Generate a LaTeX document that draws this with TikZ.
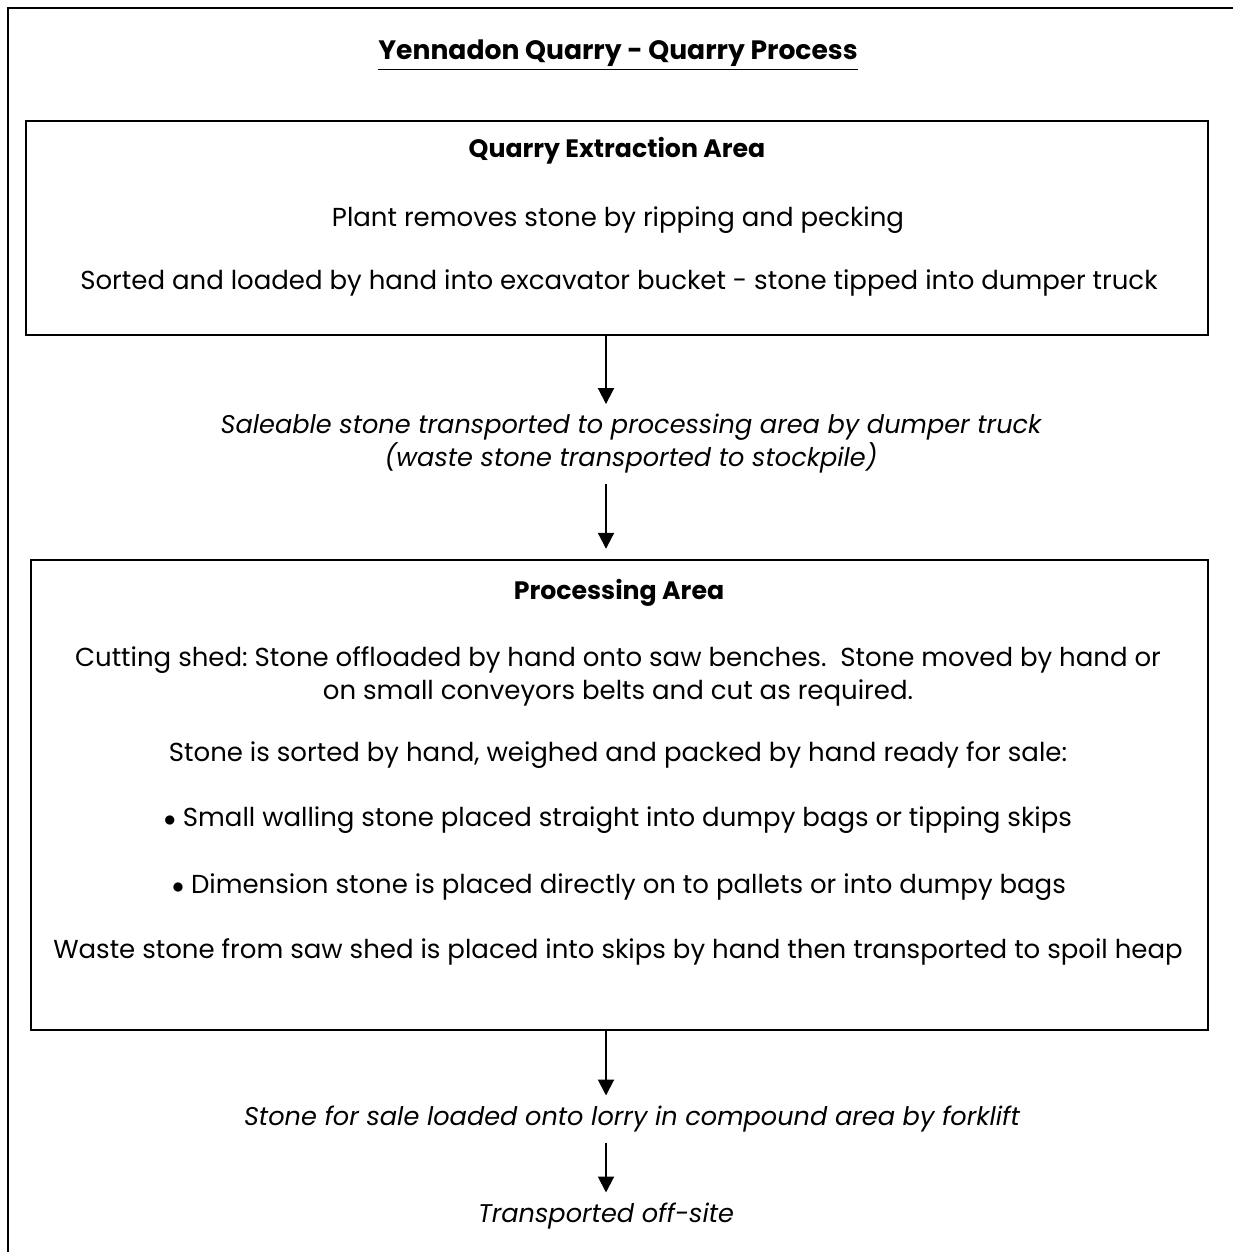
\documentclass[tikz,border=0pt]{standalone}
\usepackage{fontspec}
\setmainfont{Poppins}
\usetikzlibrary{arrows.meta}
\frenchspacing
\begin{document}
\begin{tikzpicture}[x=0.5pt,y=-0.5pt,
    frame/.style={line width=1pt},
    stagebox/.style={draw,line width=1.2pt,inner sep=0pt},
    txt/.style={inner sep=0pt,align=center,font=\fontsize{13}{16.5}\selectfont},
    head/.style={txt,font=\fontsize{12.6}{16.5}\selectfont\bfseries},
    note/.style={txt,inner xsep=0pt,inner ysep=5pt,font=\fontsize{12.8}{16.5}\selectfont\itshape},
    flow/.style={line width=1pt,-{Triangle[width=8pt,length=8pt]}}]
      \useasboundingbox (0,0) rectangle (1233,1252);
      \draw[frame] (1233,8) -- (8,8) -- (8,1252);
      \node[head,font=\fontsize{13.3}{16}\selectfont\bfseries] (title) at (618,55) {\underline{Yennadon Quarry - Quarry Process}};
      \node[stagebox,minimum width=591pt,minimum height=107pt] (extract) at (617,228) {};
      \node[head] (extracthead) at (617,151) {Quarry Extraction Area};
      \node[txt] (rip) at (618,220) {Plant removes stone by ripping and pecking};
      \node[txt] (sort) at (619,283) {Sorted and loaded by hand into excavator bucket - stone tipped into dumper truck};
      \node[note] (move1) at (631,444) {Saleable stone transported to processing area by dumper truck\\(waste stone transported to stockpile)};
      \node[stagebox,minimum width=588.5pt,minimum height=235pt] (process) at (619.5,795) {};
      \node[head] (processhead) at (619,593) {Processing Area};
      \node[txt] (cut) at (618,676) {Cutting shed: Stone offloaded by hand onto saw benches.\ \ Stone moved by hand or\\on small conveyors belts and cut as required.};
      \node[txt] (pack) at (618,755) {Stone is sorted by hand, weighed and packed by hand ready for sale:};
      \node[txt] (walling) at (618,820) {$\bullet$ Small walling stone placed straight into dumpy bags or tipping skips};
      \node[txt] (dimension) at (619,887) {$\bullet$ Dimension stone is placed directly on to pallets or into dumpy bags};
      \node[txt] (waste) at (618,952) {Waste stone from saw shed is placed into skips by hand then transported to spoil heap};
      \node[note] (lorry) at (632,1119) {Stone for sale loaded onto lorry in compound area by forklift};
      \node[note] (offsite) at (606,1216) {Transported off-site};
      \draw[flow] (extract.south -| offsite) -- (move1.north -| offsite);
      \draw[flow,shorten >=5pt] (move1.south -| offsite) -- (process.north -| offsite);
      \draw[flow] (process.south -| offsite) -- (lorry.north -| offsite);
      \draw[flow] (lorry.south -| offsite) -- (offsite.north);
    \end{tikzpicture}
\end{document}
